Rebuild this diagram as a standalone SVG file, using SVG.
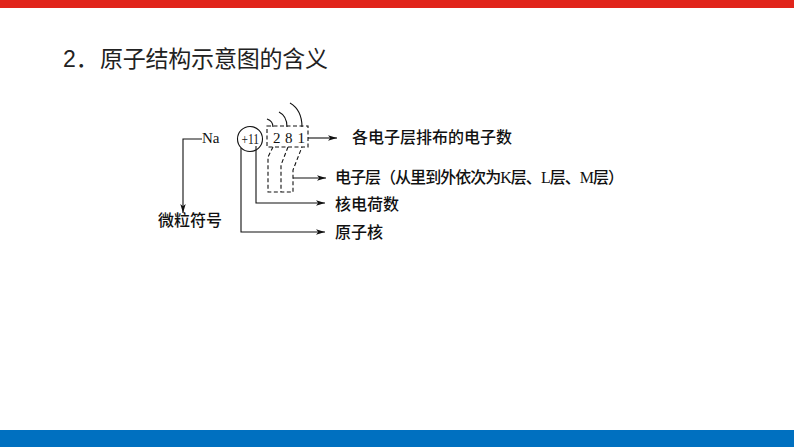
<svg xmlns="http://www.w3.org/2000/svg" width="794" height="447" viewBox="0 0 794 447">
<style>
.cn{font-family:"Noto Sans CJK SC","Liberation Serif",serif;font-size:16px;font-weight:500;fill:#111}
.lat{font-family:"Liberation Serif","Noto Sans CJK SC",serif;fill:#111}
.ln{fill:none;stroke:#111;stroke-width:1.1}
.dash{fill:none;stroke:#111;stroke-width:1.1;stroke-dasharray:4 2.5}
</style>
<defs>
<marker id="ah" viewBox="0 0 10 6" refX="10" refY="3" markerWidth="9" markerHeight="5.4" markerUnits="userSpaceOnUse" orient="auto">
<path d="M0,0 L10,3 L0,6 L2.5,3 Z" fill="#111"/>
</marker>
</defs>
<rect x="0" y="0" width="794" height="8" fill="#E1251B"/>
<rect x="0" y="430" width="794" height="17" fill="#0070C0"/>
<text x="63" y="67" style="font-family:'Liberation Sans','Noto Sans CJK SC',sans-serif;font-size:23px;fill:#222">2．</text>
<text x="100" y="67" textLength="228" style="font-family:'Noto Sans CJK SC',sans-serif;font-size:23px;fill:#222">原子结构示意图的含义</text>

<g id="symbol">
<text class="lat" x="202" y="143" font-size="15">Na</text>
</g>
<g id="nucleus">
<circle cx="250" cy="139" r="12.5" fill="none" stroke="#111" stroke-width="1.1"/>
<text class="lat" x="241.5" y="143.5" font-size="15" textLength="17.5" lengthAdjust="spacingAndGlyphs">+11</text>
</g>
<g id="electrons">
<rect class="dash" x="267" y="126" width="41" height="21"/>
<text class="lat" x="273" y="143" font-size="15">2</text>
<text class="lat" x="285" y="143" font-size="15">8</text>
<text class="lat" x="297.5" y="143" font-size="15">1</text>
</g>
<g id="label-electrons"><text class="cn" x="352" y="143">各电子层排布的电子数</text></g>
<g id="label-shells"><text class="cn" x="335" y="183" textLength="289">电子层（从里到外依次为<tspan class="lat">K</tspan>层、<tspan class="lat">L</tspan>层、<tspan class="lat">M</tspan>层）</text></g>
<g id="label-charge"><text class="cn" x="335" y="210">核电荷数</text></g>
<g id="label-nucleus"><text class="cn" x="335" y="238">原子核</text></g>
<g id="label-symbol"><text class="cn" x="158" y="226">微粒符号</text></g>

<g id="connectors">
<path class="ln" d="M267,119 Q273,121 273,127"/>
<path class="ln" d="M279,112 Q287,116 287,127"/>
<path class="ln" d="M290,103 Q302,110 302,127"/>
<path class="dash" d="M273,147 L268,157 L268,192 L293,192 L293,170 L302,147"/>
<path class="dash" d="M288,147 L281,165 L281,192"/>
<path class="ln" d="M308,138 L337,138" marker-end="url(#ah)"/>
<path class="ln" d="M293,178 L326,178" marker-end="url(#ah)"/>
<path class="ln" d="M256,146 L256,203 L325,203" marker-end="url(#ah)"/>
<path class="ln" d="M241,148 L241,232 L325,232" marker-end="url(#ah)"/>
<path class="ln" d="M202,139 L183,139 L183,213" marker-end="url(#ah)"/>
</g>
</svg>
